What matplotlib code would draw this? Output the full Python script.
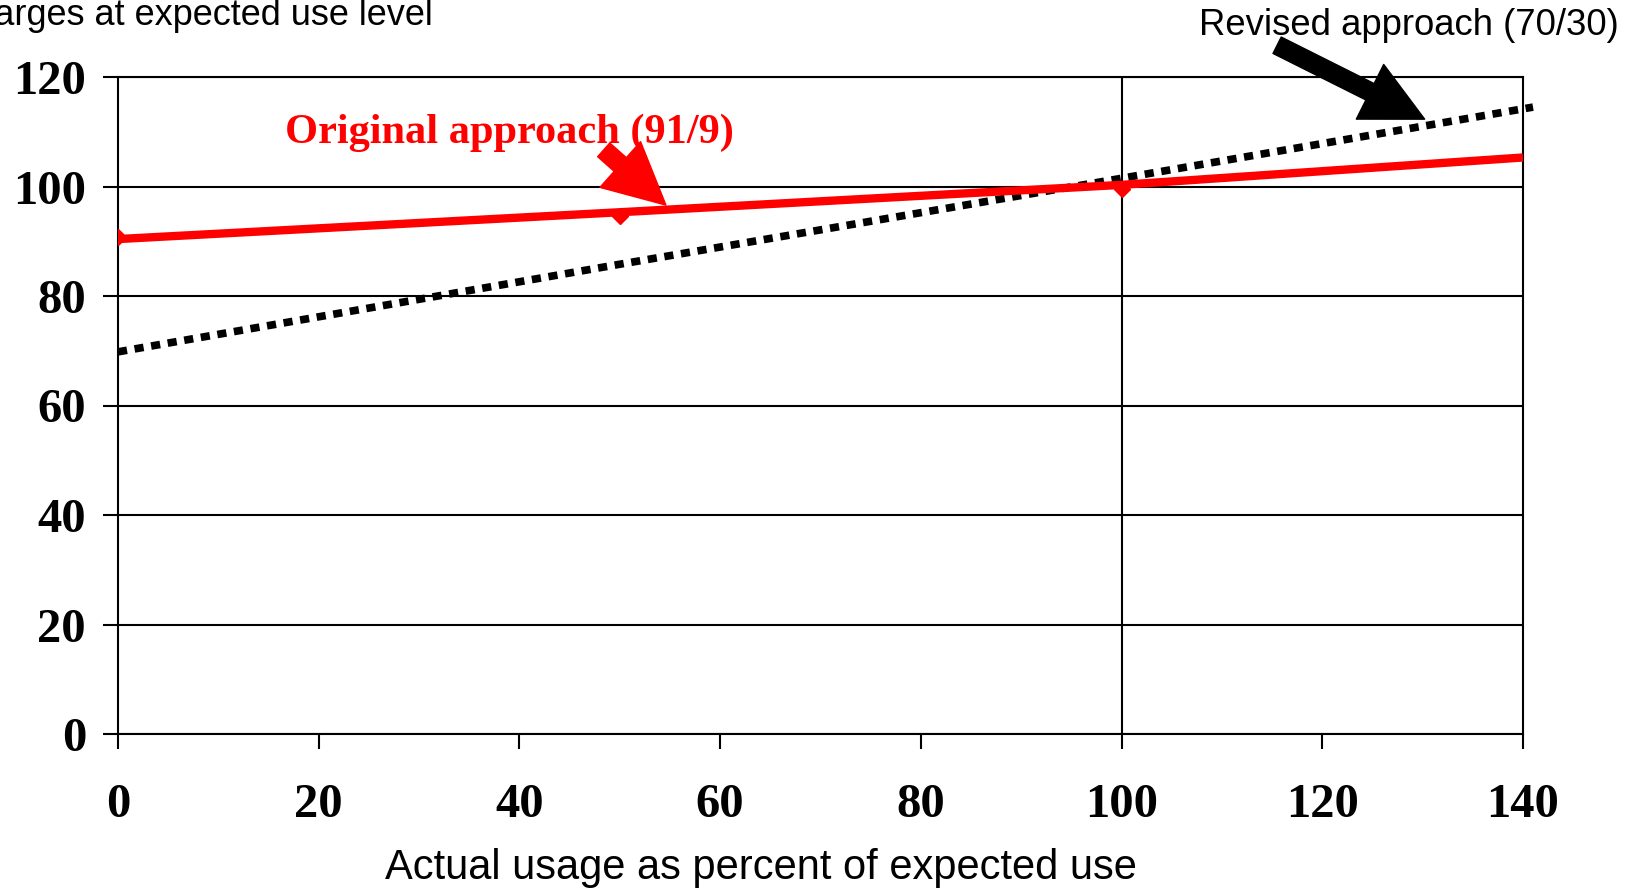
import matplotlib.pyplot as plt

# usage (% of expected) and charges (% of charges at expected use)
usage = [0, 50, 100, 140]
original = [90.4, 95.3, 100.3, 105.3]       # 91/9 split
usage_rev = [0, 50, 100, 141]
revised = [69.8, 85.8, 101.5, 114.5]        # 70/30 split
marker_x = [0, 50, 100]
marker_y = [90.7, 94.6, 99.6]

xticks = list(range(0, 141, 20))
yticks = list(range(0, 121, 20))

serif = 'Liberation Serif'
sans = 'Liberation Sans'

fig = plt.figure(figsize=(16.39, 8.93), dpi=100)
ax = fig.add_axes([118 / 1639, 1 - 734 / 893, 1405 / 1639, 657 / 893])

ax.set_xlim(0, 140)
ax.set_ylim(0, 120)
ax.set_xticks(xticks)
ax.set_yticks(yticks)
ax.set_xticklabels([str(t) for t in xticks], fontfamily=serif, fontweight='bold', fontsize=35)
ax.set_yticklabels([str(t) for t in yticks], fontfamily=serif, fontweight='bold', fontsize=35)
ax.tick_params(axis='both', length=11, width=1.5, color='black')
ax.tick_params(axis='x', pad=24)
ax.tick_params(axis='y', pad=12)

for s in ax.spines.values():
    s.set_linewidth(1.5)
    s.set_color('black')
ax.yaxis.grid(True, color='black', lw=1.5)
ax.axvline(100, color='black', lw=1.5)

ax.plot(usage_rev, revised, color='black', lw=5.5, linestyle=(0, (1.2, 1.0)),
        dash_capstyle='butt', clip_on=False, zorder=3)
ax.plot(marker_x, marker_y, linestyle='none', marker='D', ms=8, color='red', zorder=3)
ax.plot(usage, original, color='red', lw=6, solid_capstyle='butt', zorder=4)

ax.text(16.6, 107.9, 'Original approach (91/9)', color='red', fontfamily=serif,
        fontweight='bold', fontsize=30.5, va='baseline', ha='left')
arrow = 'simple,head_length=1.0,head_width=1.0,tail_width=0.3'
ax.annotate('', xy=(54.6, 96.6), xytext=(48.4, 106.7),
            arrowprops=dict(arrowstyle=arrow, color='red', mutation_scale=44,
                            shrinkA=0, shrinkB=0))
ax.annotate('', xy=(130.2, 112.3), xytext=(115.5, 125.8), annotation_clip=False,
            arrowprops=dict(arrowstyle=arrow, color='black', mutation_scale=44,
                            shrinkA=0, shrinkB=0))

fig.text(1619 / 1639, 1 - 35 / 893, 'Revised approach (70/30)', fontfamily=sans,
         fontsize=26.3, ha='right', va='baseline')
fig.text(433 / 1639, 1 - 25 / 893, 'Charges at expected use level', fontfamily=sans,
         fontsize=26, ha='right', va='baseline')

ax.set_xlabel('Actual usage as percent of expected use', fontfamily=sans, fontsize=30,
              va='center')
ax.xaxis.set_label_coords(0.4577, -0.204)

fig.savefig('out.png', dpi=100)
